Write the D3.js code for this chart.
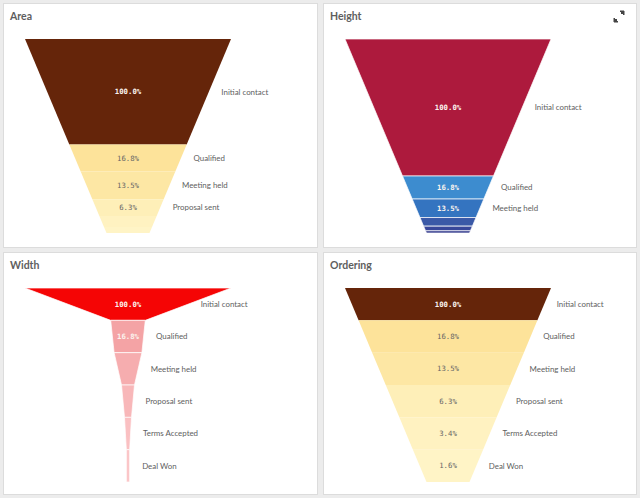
<!DOCTYPE html>
<html>
<head>
<meta charset="utf-8">
<script src="https://cdn.jsdelivr.net/npm/d3@7"></script>
<style>
  html, body { margin: 0; padding: 0; background: #ececec; }
  svg { display: block; }
</style>
</head>
<body>
<svg id="chart" width="640" height="498"></svg>
<script>
// ---------- data ----------
const stages = ["Initial contact", "Qualified", "Meeting held", "Proposal sent", "Terms Accepted", "Deal Won"];
const values = [100, 16.8, 13.5, 6.3, 3.4, 1.6];
const percentLabels = ["100.0%", "16.8%", "13.5%", "6.3%", "3.4%", "1.6%"];
const panelTitles = ["Area", "Height", "Width", "Ordering"];
const panelModes = ["area", "height", "width", "ordering"];
// how many stages get a percent label / a category label in each panel
const percentShown = [4, 3, 2, 6];
const nameShown = [4, 3, 6, 6];

// ---------- styles ----------
const brownScale = d3.scaleLinear().domain([1.6, 16.8, 100]).range(["#fff4c6", "#fde39a", "#65250a"]);
const heightColors = ["#ad1a3d", "#3d8ccf", "#3474c0", "#3a59a7", "#38479a", "#2f378a"];
const widthColors = ["#f50505", "#f4a3a5", "#f6adaf", "#f8b7b9", "#fac0c2", "#fbc6c8"];
const panelColor = [
  (d, i) => brownScale(d),
  (d, i) => heightColors[i],
  (d, i) => widthColors[i],
  (d, i) => brownScale(d)
];
const lightLabelPanels = [false, false, true, false]; // panels whose % labels are always light

const panels = [
  { x: 3, y: 3, w: 314, h: 244 },
  { x: 323, y: 3, w: 313, h: 244 },
  { x: 3, y: 252, w: 314, h: 242 },
  { x: 323, y: 252, w: 313, h: 242 }
];

const svg = d3.select("#chart");
const FUNNEL_TOP = 36, FUNNEL_BOTTOM = 230, CX = 125, HALF_TOP = 103, HALF_BOTTOM = 21.5;

panels.forEach((p, pi) => {
  const g = svg.append("g").attr("transform", `translate(${p.x},${p.y})`);
  g.append("rect").attr("width", p.w).attr("height", p.h)
    .attr("fill", "#ffffff").attr("stroke", "#dcdcdc").attr("stroke-width", 1)
    .attr("x", 0.5).attr("y", 0.5);
  g.append("text").attr("x", 7).attr("y", 16.5)
    .attr("font-family", "Lato, 'Open Sans', sans-serif").attr("font-weight", "bold")
    .attr("font-size", 10.5).attr("fill", "#5e5e5e").text(panelTitles[pi]);

  const mode = panelModes[pi];
  const n = values.length;
  const total = d3.sum(values);
  const yScale = d3.scaleLinear().domain([0, 1]).range([FUNNEL_TOP, FUNNEL_BOTTOM]);
  const wScale = d3.scaleLinear().domain([0, 100]).range([0, HALF_TOP]);
  const taper = d3.scaleLinear().domain([0, 1]).range([HALF_TOP, HALF_BOTTOM]);

  // cumulative boundaries (fraction of height)
  const cum = [0];
  let acc = 0;
  values.forEach((v, i) => {
    acc += v;
    const f = acc / total;
    let t;
    if (mode === "area") {
      const w0 = HALF_TOP, w1 = HALF_BOTTOM;
      const a = (w1 - w0) / 2, b = w0, c = -f * (w0 + w1) / 2;
      t = (-b + Math.sqrt(b * b - 4 * a * c)) / (2 * a);
    } else if (mode === "height") {
      t = f;
    } else {
      t = (i + 1) / n;
    }
    cum.push(Math.min(1, t));
  });

  const segs = values.map((v, i) => {
    const t0 = cum[i], t1 = cum[i + 1];
    let hw0, hw1;
    if (mode === "width") {
      hw0 = wScale(v);
      hw1 = wScale(values[Math.min(i + 1, n - 1)]);
    } else {
      hw0 = taper(t0); hw1 = taper(t1);
    }
    return { v, i, t0, t1, hw0, hw1, y0: yScale(t0), y1: yScale(t1) };
  });

  const line = d3.line();
  g.selectAll("path.seg").data(segs).join("path")
    .attr("class", "seg")
    .attr("d", s => line([[CX - s.hw0, s.y0], [CX + s.hw0, s.y0], [CX + s.hw1, s.y1], [CX - s.hw1, s.y1]]) + "Z")
    .attr("fill", s => panelColor[pi](s.v, s.i))
    .attr("stroke", (mode === "height" || mode === "width") ? "#ffffff" : "none")
    .attr("stroke-width", 0.7);

  // percent labels
  const isLight = s => lightLabelPanels[pi] || d3.hsl(panelColor[pi](s.v, s.i)).l <= 0.6;
  g.selectAll("text.pct").data(segs.slice(0, percentShown[pi])).join("text")
    .attr("class", "pct")
    .attr("x", CX).attr("y", s => (s.y0 + s.y1) / 2)
    .attr("dy", "0.35em").attr("text-anchor", "middle")
    .attr("font-family", "'DejaVu Sans Mono', monospace")
    .attr("font-size", 7.3)
    .attr("font-weight", s => isLight(s) ? "bold" : "normal")
    .attr("fill", s => isLight(s) ? "#fbf3ee" : "#666666")
    .text(s => percentLabels[s.i]);

  // category labels
  g.selectAll("text.name").data(segs.slice(0, nameShown[pi])).join("text")
    .attr("class", "name")
    .attr("x", s => CX + (s.hw0 + s.hw1) / 2 + 12.5)
    .attr("y", s => (s.y0 + s.y1) / 2)
    .attr("dy", "0.35em")
    .attr("font-family", "Lato, 'Open Sans', sans-serif")
    .attr("font-size", 7.9).attr("fill", "#5e5e5e")
    .text(s => stages[s.i]);

  if (pi === 1) {
    // expand icon
    const ic = g.append("g").attr("fill", "#444").attr("stroke", "#444").attr("stroke-width", 1);
    ic.append("path").attr("d", "M297,8 L301,8 L301,12 Z");
    ic.append("line").attr("x1", 301).attr("y1", 8).attr("x2", 298).attr("y2", 11);
    ic.append("path").attr("d", "M291,19 L291,15 L295,19 Z");
    ic.append("line").attr("x1", 291).attr("y1", 19).attr("x2", 294).attr("y2", 16);
  }
});
</script>
</body>
</html>
